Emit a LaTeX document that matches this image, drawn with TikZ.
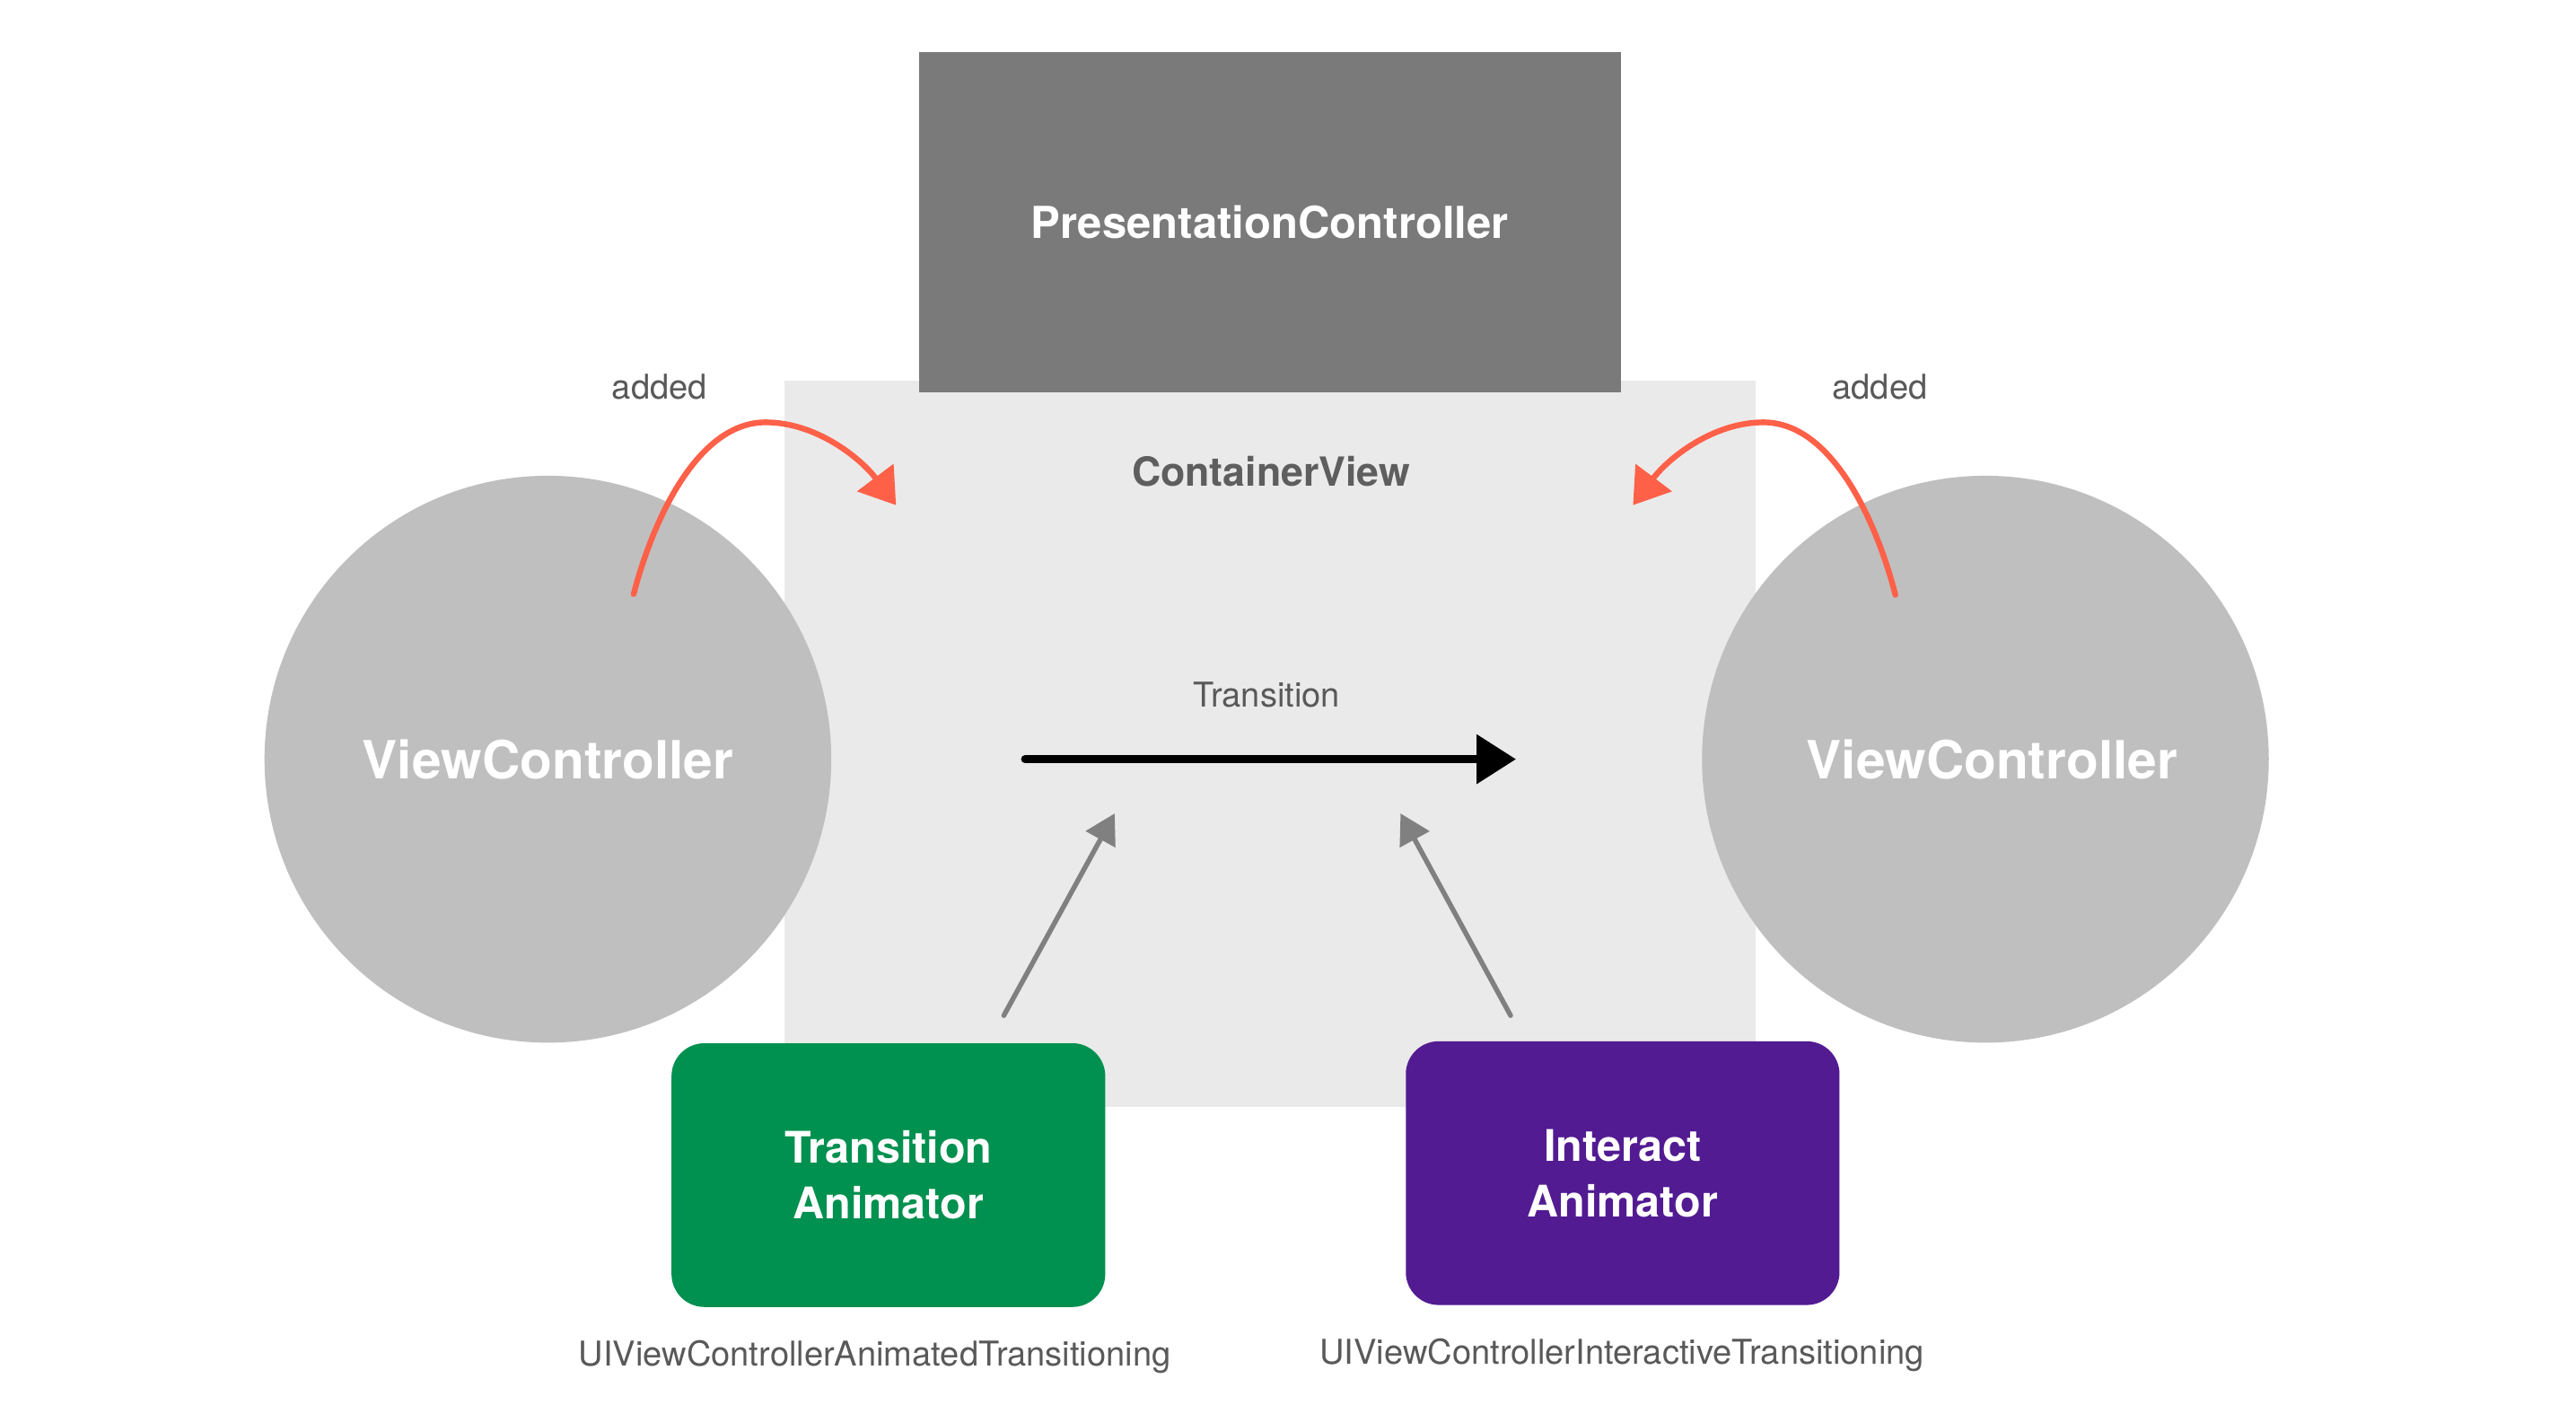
\documentclass[tikz,border=0pt]{standalone}
\usepackage{fontspec}
\setmainfont{TeX Gyre Heros}
\usetikzlibrary{arrows.meta}
\definecolor{presgray}{HTML}{7A7A7A}
\definecolor{contgray}{HTML}{EAEAEA}
\definecolor{vcgray}{HTML}{BFBFBF}
\definecolor{moss}{HTML}{00904F}
\definecolor{grape}{HTML}{521B92}
\definecolor{salmonred}{HTML}{FF6048}
\definecolor{labelgray}{HTML}{595959}
\definecolor{cvtext}{HTML}{5E5E5E}
\definecolor{arrowgray}{HTML}{808080}
\tikzset{
  vcnode/.style={circle, fill=vcgray, minimum size=345pt, inner sep=0pt,
    text=white, font=\bfseries\fontsize{32}{38}\selectfont},
  animbox/.style={rectangle, rounded corners=20pt, minimum width=264pt, minimum height=160.5pt,
    inner sep=0pt, text=white, align=center, font=\bfseries\fontsize{26.5}{34}\selectfont},
  smalllabel/.style={anchor=base, inner sep=0pt, text=labelgray, font=\fontsize{20.8}{25}\selectfont},
  addedarrow/.style={draw=salmonred, line width=3.5pt, line cap=round,
    -{Triangle[length=21pt,width=27pt]}},
  hintarrow/.style={draw=arrowgray, line width=3pt, line cap=round,
    -{Triangle[length=18pt,width=20pt]}},
  transarrow/.style={draw=black, line width=5pt, line cap=round,
    -{Triangle[length=24pt,width=29pt]}}
}
\begin{document}
\begin{tikzpicture}[x=1pt,y=-1pt]
\useasboundingbox (0,0) rectangle (1568,860);
\fill[white] (0,0) rectangle (1568,860);

% container view
\node (cont) [rectangle, fill=contgray, minimum width=591pt, minimum height=442.2pt, inner sep=0pt]
  at (773,452.7) {};
\node (contlbl) [anchor=base, inner sep=0pt, text=cvtext, font=\bfseries\fontsize{24.4}{29}\selectfont]
  at (773.7,295.6) {ContainerView};

% presentation controller
\node (pres) [rectangle, fill=presgray, minimum width=427.3pt, minimum height=207.4pt, inner sep=0pt,
  text=white, font=\bfseries\fontsize{26.8}{32}\selectfont] at (773,135.3) {PresentationController};

% view controllers
\node (vcL) [vcnode] at (333.5,462) {ViewController};
\node (vcR) [vcnode] at (1208.5,462) {\hspace*{8pt}ViewController};

% animators
\node (tanim) [animbox, fill=moss] at (540.75,715.1) {Transition\\Animator};
\node (ianim) [animbox, fill=grape] at (987.7,713.9) {Interact\\Animator};

% labels
\node (addL) [smalllabel] at (401.5,243) {added};
\node (addR) [smalllabel] at (1144.3,243) {added};
\node (translbl) [smalllabel] at (771,430.1) {Transition};
\node (protoA) [smalllabel] at (532.5,831) {UIViewControllerAnimatedTransitioning};
\node (protoI) [smalllabel] at (987.3,830.4) {UIViewControllerInteractiveTransitioning};

% transition arrow
\coordinate (trS) at (624,462);
\coordinate (trE) at (922.8,462);
\draw[transarrow] (trS) -- (trE);

% hint arrows
\coordinate (hAs) at (611,618);
\coordinate (hAe) at (678.5,495);
\coordinate (hIs) at (919.5,618);
\coordinate (hIe) at (852.5,495);
\draw[hintarrow] (hAs) -- (hAe);
\draw[hintarrow] (hIs) -- (hIe);

% added arrows
\coordinate (aLs) at (385.7,361.5);
\coordinate (aLp) at (466,257);
\coordinate (aLe) at (545.4,307.4);
\draw[addedarrow] (aLs) .. controls (397,318) and (424,257) .. (aLp)
  .. controls (497,257) and (524,279) .. (aLe);
\coordinate (aRs) at (1153.7,362);
\coordinate (aRp) at (1073.4,257);
\coordinate (aRe) at (994,307.4);
\draw[addedarrow] (aRs) .. controls (1142.4,318) and (1115.4,257) .. (aRp)
  .. controls (1042.4,257) and (1015.4,279) .. (aRe);
\end{tikzpicture}
\end{document}
